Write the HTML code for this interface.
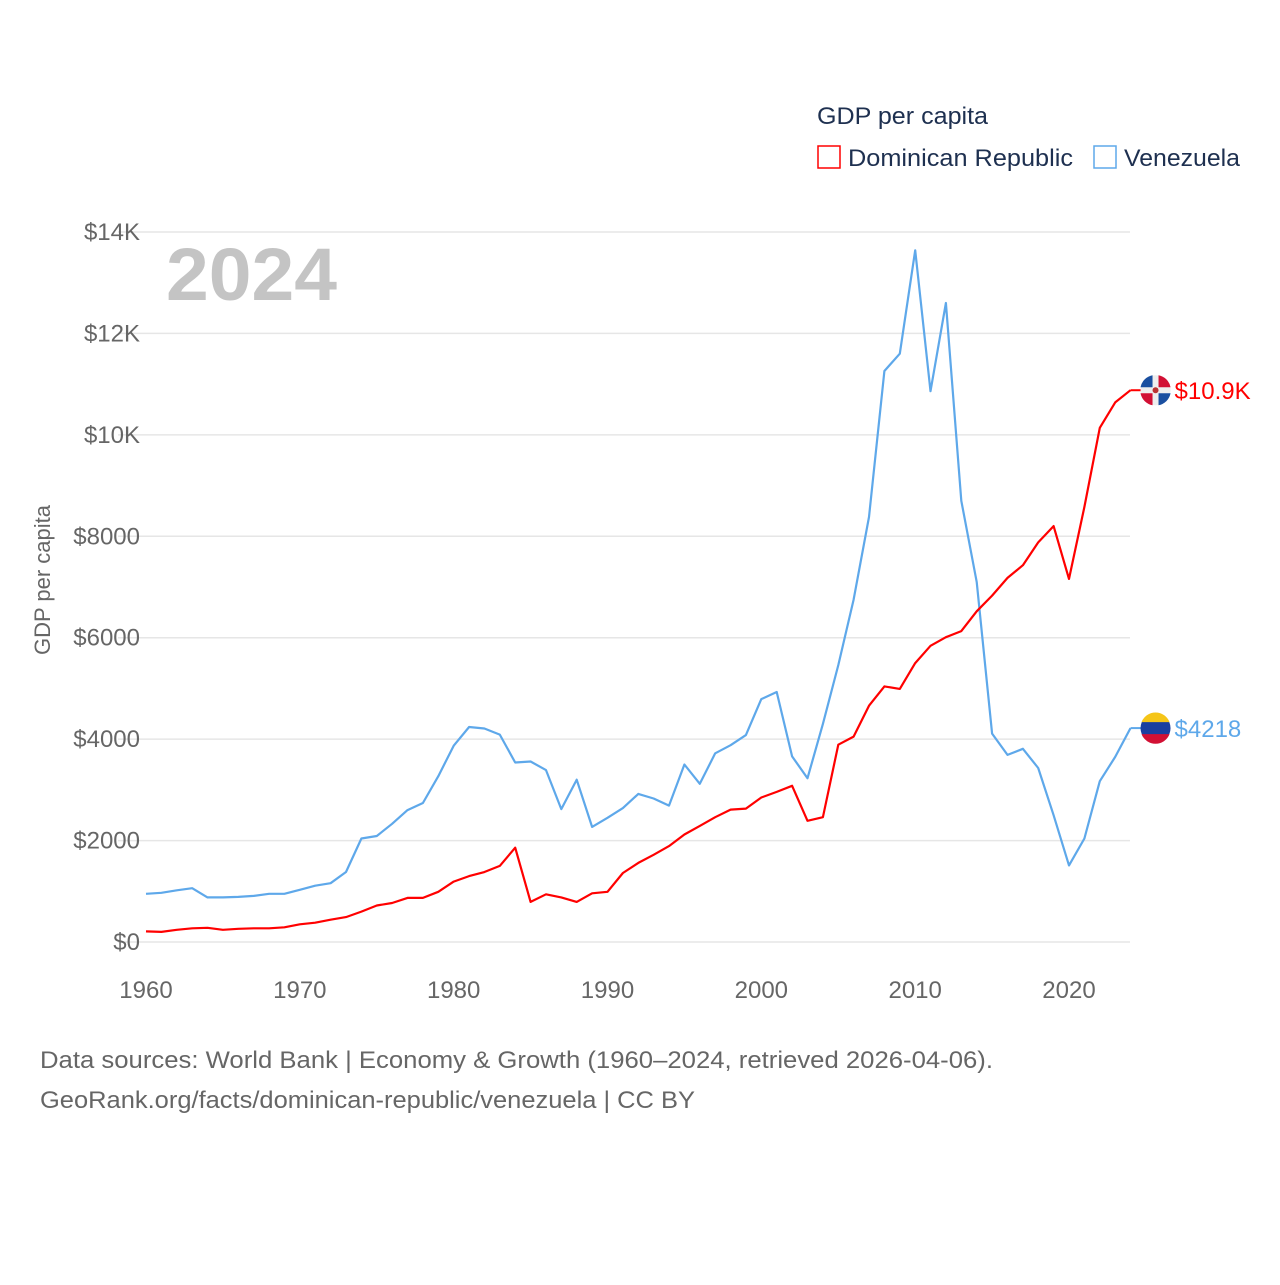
<!DOCTYPE html>
<html><head><meta charset="utf-8"><style>
body{margin:0;background:#fff;font-family:"Liberation Sans",sans-serif}
</style></head><body>
<svg id="chart" width="1280" height="1280" xmlns="http://www.w3.org/2000/svg" font-family="Liberation Sans, sans-serif">
<rect width="1280" height="1280" fill="#fff"/>
<g id="grid"></g>
<g id="yticks"></g>
<g id="xticks"></g>
<text x="166" y="300" font-size="74" font-weight="bold" fill="#c4c4c4" textLength="171" lengthAdjust="spacingAndGlyphs">2024</text>
<text transform="translate(50,580) rotate(-90)" text-anchor="middle" font-size="22" fill="#666">GDP per capita</text>
<g id="lines"></g>
<text x="817" y="124" font-size="24" fill="#1e3050" textLength="171" lengthAdjust="spacingAndGlyphs">GDP per capita</text>
<rect x="818" y="146" width="22" height="22" fill="none" stroke="#ff0000" stroke-width="1.5"/>
<text x="848" y="166" font-size="24" fill="#1e3050" textLength="225" lengthAdjust="spacingAndGlyphs">Dominican Republic</text>
<rect x="1094" y="146" width="22" height="22" fill="none" stroke="#5ea8ea" stroke-width="1.5"/>
<text x="1124" y="166" font-size="24" fill="#1e3050" textLength="116" lengthAdjust="spacingAndGlyphs">Venezuela</text>
<text x="40" y="1068" font-size="24" fill="#666" textLength="953" lengthAdjust="spacingAndGlyphs">Data sources: World Bank | Economy &amp; Growth (1960–2024, retrieved 2026-04-06).</text>
<text x="40" y="1108" font-size="24" fill="#666" textLength="655" lengthAdjust="spacingAndGlyphs">GeoRank.org/facts/dominican-republic/venezuela | CC BY</text>
</svg>
<script>
const years=[];for(let y=1960;y<=2024;y++)years.push(y);
const domRep=[210,200,240,270,280,240,260,270,270,290,350,380,440,490,600,720,770,870,870,990,1190,1300,1380,1500,1860,790,940,880,790,960,990,1360,1560,1720,1890,2120,2290,2460,2610,2630,2850,2960,3080,2390,2460,3890,4050,4660,5040,4990,5500,5840,6010,6130,6520,6830,7180,7430,7880,8200,7160,8580,10140,10640,10880];
const venezuela=[950,970,1020,1060,880,880,890,910,950,950,1030,1110,1160,1380,2040,2090,2330,2600,2740,3270,3870,4240,4210,4090,3540,3560,3390,2620,3200,2270,2450,2640,2920,2830,2690,3500,3120,3720,3880,4080,4790,4930,3660,3230,4300,5460,6750,8380,11260,11600,13640,10860,12600,8700,7100,4110,3690,3810,3430,2500,1510,2040,3170,3650,4218];
const yTickVals=[0,2000,4000,6000,8000,10000,12000,14000];
const yTickLabels=["$0","$2000","$4000","$6000","$8000","$10K","$12K","$14K"];
const xTickVals=[1960,1970,1980,1990,2000,2010,2020];
const NS="http://www.w3.org/2000/svg";
const X=v=>146+(v-1960)*(923/60);
const Y=v=>942-v*(710/14000);
function mk(tag,attrs,parent,txt){const e=document.createElementNS(NS,tag);for(const k in attrs)e.setAttribute(k,attrs[k]);if(txt!=null)e.textContent=txt;parent.appendChild(e);return e;}
const grid=document.getElementById('grid'),yt=document.getElementById('yticks'),xt=document.getElementById('xticks'),lines=document.getElementById('lines');
yTickVals.forEach((v,i)=>{
 const l=mk('line',{x1:118,x2:1130,y1:Y(v),y2:Y(v),stroke:'#e6e6e6','stroke-width':1.5},grid);
 
 
 const t=mk('text',{x:140,y:Y(v)+8,'text-anchor':'end','font-size':24,fill:'#666'},yt,yTickLabels[i]);
 
 
});
xTickVals.forEach(v=>{
 const t=mk('text',{x:X(v),y:998,'text-anchor':'middle','font-size':24,fill:'#666'},xt,String(v));
 
 
});
function path(vals,color,name){
 const d=vals.map((v,i)=>(i?'L':'M')+X(years[i]).toFixed(1)+','+Y(v).toFixed(1)).join('');
 const p=mk('path',{d:d,fill:'none',stroke:color,'stroke-width':2.2,'stroke-linejoin':'round'},lines);
 
 
}
path(venezuela,'#5ea8ea','venezuela-line');
path(domRep,'#ff0000','dominican-republic-line');
function endLabel(vals,color,label,name,flag){
 const v=vals[vals.length-1],x=X(2024),y=Y(v);
 const c=mk('line',{x1:x,x2:x+12,y1:y,y2:y,stroke:color,'stroke-width':2},lines);
 
 
 const g=mk('g',{},lines);
 
 
 const cx=x+25,r=15;
 if(flag==='dr'){
  mk('circle',{cx:cx,cy:y,r:r,fill:'#eee'},g);
  mk('path',{d:`M${cx-r},${y-3}A${r},${r} 0 0 1 ${cx-3},${y-r}L${cx-3},${y-3}Z`,fill:'#1a4fa0'},g);
  mk('path',{d:`M${cx+3},${y-r}A${r},${r} 0 0 1 ${cx+r},${y-3}L${cx+3},${y-3}Z`,fill:'#d21034'},g);
  mk('path',{d:`M${cx-r},${y+3}A${r},${r} 0 0 0 ${cx-3},${y+r}L${cx-3},${y+3}Z`,fill:'#d21034'},g);
  mk('path',{d:`M${cx+3},${y+r}A${r},${r} 0 0 0 ${cx+r},${y+3}L${cx+3},${y+3}Z`,fill:'#1a4fa0'},g);
  mk('circle',{cx:cx,cy:y,r:3,fill:'#b33'},g);
 }else{
  mk('circle',{cx:cx,cy:y,r:r,fill:'#1a3fa0'},g);
  mk('path',{d:`M${cx-r+1},${y-6}A${r},${r} 0 0 1 ${cx+r-1},${y-6}Z`,fill:'#f5c518'},g);
  mk('path',{d:`M${cx-r+1},${y+6}A${r},${r} 0 0 0 ${cx+r-1},${y+6}Z`,fill:'#d21034'},g);
 }
 const t=mk('text',{x:x+44,y:y+9,'font-size':24,fill:color},lines,label);
 
 
}
endLabel(domRep,'#ff0000','$10.9K','dominican-republic','dr');
endLabel(venezuela,'#5ea8ea','$4218','venezuela','ve');
</script>
</body></html>
